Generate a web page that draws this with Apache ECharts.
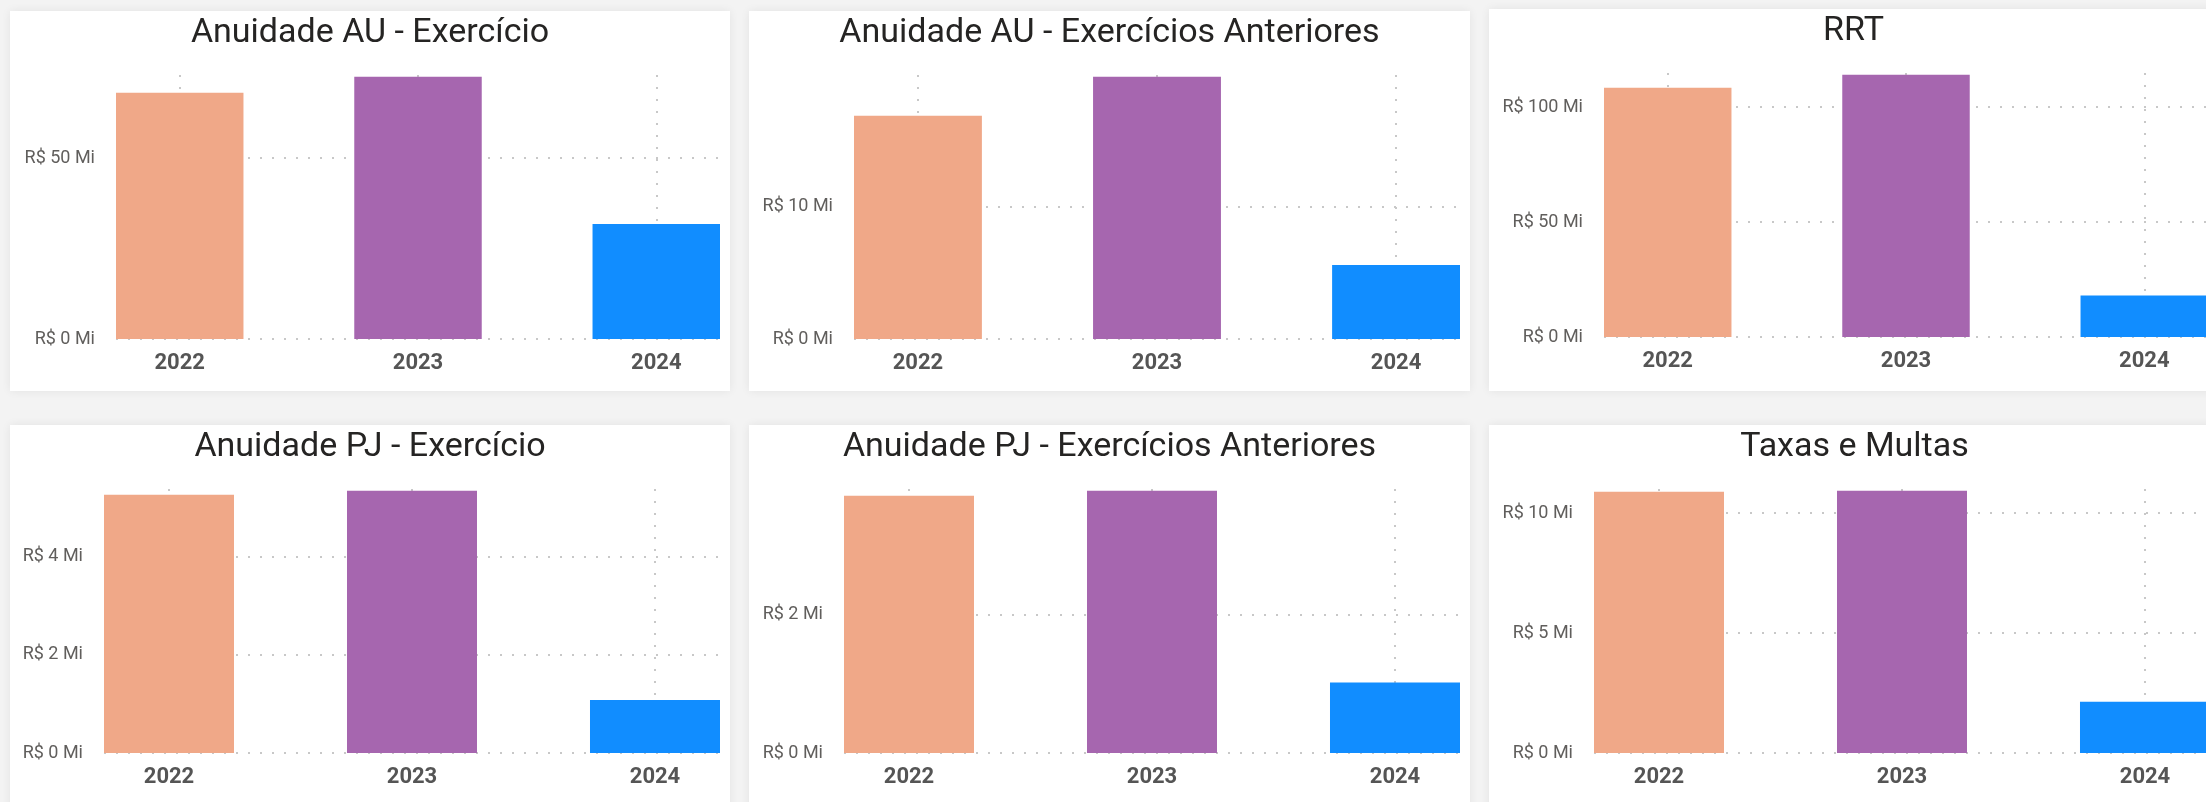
<!DOCTYPE html>
<html><head><meta charset="utf-8">
<script src="https://cdn.jsdelivr.net/npm/echarts@6/dist/echarts.min.js"></script>
<style>
html,body{margin:0;padding:0;width:2206px;height:802px;overflow:hidden;background:#f3f3f3;}
.card{position:absolute;background:#fff;box-shadow:0 0 9px rgba(0,0,0,0.07);overflow:hidden;}
</style></head><body>
<script>
// ---- data (values in R$ milhões) ----
const years = ['2022', '2023', '2024'];
const titles = [
  'Anuidade AU - Exercício',
  'Anuidade AU - Exercícios Anteriores',
  'RRT',
  'Anuidade PJ - Exercício',
  'Anuidade PJ - Exercícios Anteriores',
  'Taxas e Multas'
];
const anuidadeAUExercicio = [68.1, 72.5, 31.8];
const anuidadeAUAnteriores = [16.9, 19.85, 5.6];
const rrt = [108.4, 114.0, 18.0];
const anuidadePJExercicio = [5.26, 5.34, 1.08];
const anuidadePJAnteriores = [3.72, 3.79, 1.02];
const taxasMultas = [10.89, 10.93, 2.14];
const tickSteps = [50, 10, 50, 2, 2, 5];
const barColors = ['#F0A888', '#A666AF', '#118DFF'];

const seriesList = [anuidadeAUExercicio, anuidadeAUAnteriores, rrt,
                    anuidadePJExercicio, anuidadePJAnteriores, taxasMultas];

// ---- layout ----
const layouts = [
  {x: 10,   y: 11,  w: 720, h: 380, left: 106, right: 10},
  {x: 749,  y: 11,  w: 721, h: 380, left: 105, right: 10},
  {x: 1489, y: 9,   w: 729, h: 382, left: 115, right: 10},
  {x: 10,   y: 425, w: 720, h: 400, left: 94,  right: 10},
  {x: 749,  y: 425, w: 721, h: 400, left: 95,  right: 10},
  {x: 1489, y: 425, w: 731, h: 400, left: 105, right: 10}
];
const FONT = 'Roboto, "Liberation Sans", sans-serif';
const GRID_TOP = 64, GRID_H = 264;
const dotted = {color: '#c8c8c8', width: 2, type: [2, 10]};

seriesList.forEach((vals, i) => {
  const L = layouts[i];
  const div = document.createElement('div');
  div.className = 'card';
  div.style.left = L.x + 'px'; div.style.top = L.y + 'px';
  div.style.width = L.w + 'px'; div.style.height = L.h + 'px';
  document.body.appendChild(div);
  const chart = echarts.init(div, null, {renderer: 'canvas', width: L.w, height: L.h});
  const P = L.w - L.right - L.left;
  const S = P / 2.535;
  const gbLeft = L.left - 0.2325 * S;
  const yMax = Math.max(...vals) * 1.007;
  chart.setOption({
    animation: false,
    title: {
      text: titles[i], left: 'center', top: 0,
      textStyle: {fontFamily: FONT, fontSize: 34, fontWeight: 'normal', color: '#252423'}
    },
    grid: [
      {left: L.left, width: P, top: GRID_TOP, height: GRID_H, outerBoundsMode: 'none', containLabel: false},
      {left: gbLeft, width: 3 * S, top: GRID_TOP, height: GRID_H, outerBoundsMode: 'none', containLabel: false}
    ],
    xAxis: [
      {gridIndex: 0, type: 'value', show: false, min: 0, max: 1},
      {gridIndex: 1, type: 'category', data: years,
       axisLine: {show: false}, axisTick: {show: false},
       axisLabel: {margin: 13, fontFamily: FONT, fontSize: 22, fontWeight: 'bold', color: '#555555'},
       splitLine: {show: true, alignWithLabel: true, lineStyle: dotted}}
    ],
    yAxis: [
      {gridIndex: 0, type: 'value', min: 0, max: yMax, interval: tickSteps[i],
       axisLine: {show: false}, axisTick: {show: false},
       axisLabel: {margin: 21, showMaxLabel: false, fontFamily: FONT, fontSize: 18, color: '#605E5C',
                   formatter: v => 'R$ ' + v + ' Mi'},
       splitLine: {show: true, showMaxLine: false, lineStyle: dotted}},
      {gridIndex: 1, type: 'value', min: 0, max: yMax, show: false}
    ],
    series: [{
      type: 'bar', xAxisIndex: 1, yAxisIndex: 1, barWidth: '53.5%',
      data: vals.map((v, k) => ({value: v, itemStyle: {color: barColors[k]}}))
    }]
  });
});
</script>
</body></html>
